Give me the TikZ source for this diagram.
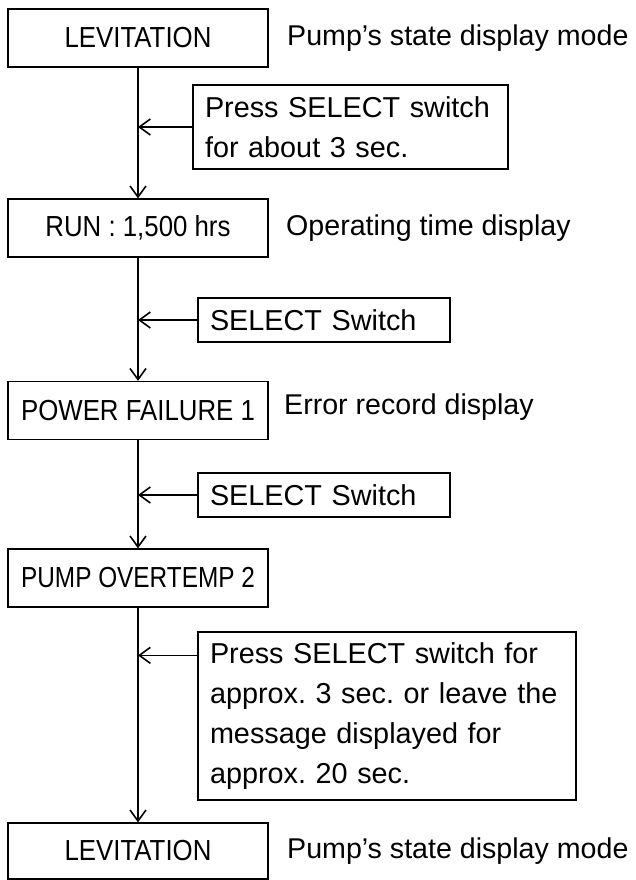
\documentclass[tikz,border=0pt]{standalone}
\usepackage{fontspec}
\setmainfont{Liberation Sans}
\usepackage{graphicx}
\usepackage{tikz}
\usetikzlibrary{arrows.meta, positioning, calc}
\definecolor{myink}{RGB}{0,0,0}
\newcommand{\narrow}[2][0.89]{\scalebox{#1}[1]{#2}}
\frenchspacing
\tikzset{
  statebox/.style={rectangle, draw=myink, minimum width=260pt, minimum height=58pt,
    inner sep=0pt, font=\fontsize{29}{32}\selectfont, line width=1.3pt},
  notebox/.style={rectangle, draw=myink, align=left, inner xsep=12pt, inner ysep=0pt,
    font=\fontsize{28.8}{40}\selectfont, line width=1.3pt},
  desc/.style={anchor=west, inner sep=0pt, font=\fontsize{28.6}{34}\selectfont},
  arrow/.style={-{Straight Barb[length=11pt,width=16pt]}, line width=1.6pt, color=myink},
  line/.style={line width=1.6pt, color=myink}
}

\begin{document}
\begin{tikzpicture}[x=1pt, y=-1pt]
  \useasboundingbox (0,0) rectangle (635,880);
  % display states
  \node[statebox] (lev1) at (138,38) {\narrow{LEVITATION}};
  \node[statebox] (run) at (138,228) {\narrow{RUN : 1,500 hrs}};
  \node[statebox] (pfail) at (138,410.5) {\narrow{POWER FAILURE 1}};
  \node[statebox] (otemp) at (138,578) {\narrow[0.84]{PUMP OVERTEMP 2}};
  \node[statebox, minimum height=56pt] (lev2) at (138,851) {\narrow{LEVITATION}};
  % what each display shows
  \node[desc] (lev1txt) at (287,38) {Pump’s state display mode};
  \node[desc] (runtxt) at (286,228) {Operating time display};
  \node[desc] (pfailtxt) at (284,407) {Error record display};
  \node[desc] (lev2txt) at (287,851) {Pump’s state display mode};
  % switch operations
  \node[notebox, text width=291pt, minimum height=84pt] (note1) at (350.5,127)
    {Press SELECT switch\\for about 3 sec.};
  \node[notebox, text width=228pt, minimum height=44pt] (sel1) at (324,320) {SELECT Switch};
  \node[notebox, text width=228pt, minimum height=44pt] (sel2) at (324,495) {SELECT Switch};
  \node[notebox, text width=354pt, minimum height=168pt] (note3) at (387,716)
    {Press SELECT switch for\\approx. 3 sec. or leave the\\message displayed for\\approx. 20 sec.};
  \coordinate (n3in) at ([yshift=-24pt]note3.north west);
  % flow
  \draw[arrow] (lev1.south) -- (run.north);
  \draw[arrow] (run.south) -- (pfail.north);
  \draw[arrow] (pfail.south) -- (otemp.north);
  \draw[arrow] (otemp.south) -- (lev2.north);
  \draw[arrow] (note1.west) -- (note1.west -| lev1.south);
  \draw[arrow] (sel1.west) -- (sel1.west -| run.south);
  \draw[arrow] (sel2.west) -- (sel2.west -| pfail.south);
  \draw[arrow] (n3in) -- (n3in -| otemp.south);
\end{tikzpicture}
\end{document}
